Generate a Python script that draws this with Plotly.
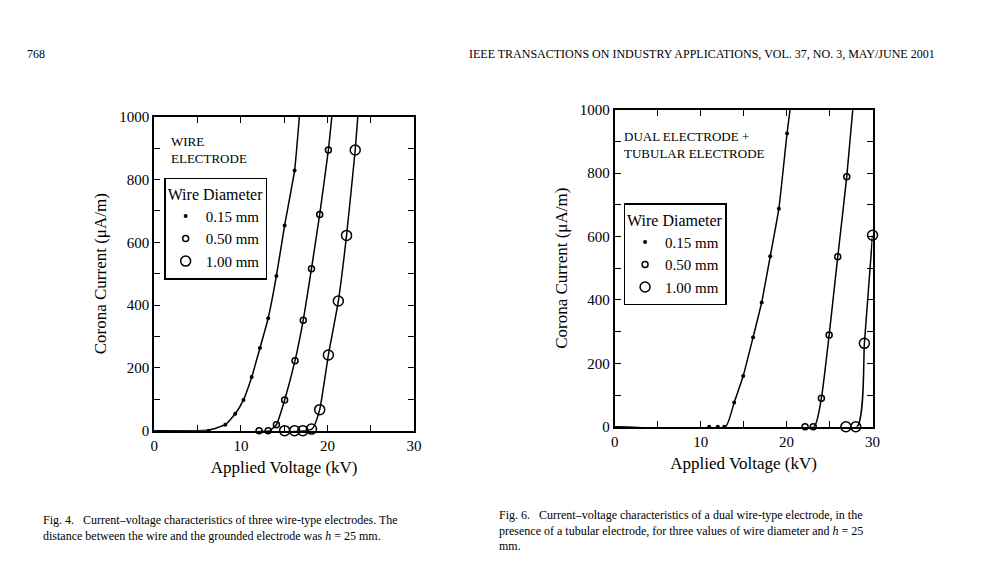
import plotly.graph_objects as go

# Fig. 4 - wire electrode (kV, uA/m)
v4_015 = [6.3, 8.2, 9.35, 10.3, 11.25, 12.2, 13.15, 14.1, 15.05, 16.2]
i4_015 = [0, 19, 54, 98, 171, 263, 358, 493, 654, 829]
v4_050 = [12.1, 13.15, 14.1, 15.05, 16.25, 17.2, 18.15, 19.1, 20.1]
i4_050 = [0, 0, 19, 98, 223, 352, 516, 689, 894]
v4_100 = [15.05, 16.2, 17.15, 18.15, 19.1, 20.1, 21.25, 22.2, 23.2]
i4_100 = [0, 0, 0, 5, 67, 241, 413, 622, 894]
# fitted curves (as drawn)
c4_015_v = [0, 5.0, 6.3, 8.2, 9.35, 10.3, 11.25, 12.2, 13.15, 14.1, 15.05, 16.2, 16.75]
c4_015_i = [0, 0, 2, 19, 54, 98, 171, 263, 358, 493, 654, 829, 1000]
c4_050_v = [0, 13.3, 14.1, 15.05, 16.25, 17.2, 18.15, 19.1, 20.1, 20.5]
c4_050_i = [0, 0, 19, 98, 223, 352, 516, 689, 894, 1000]
c4_100_v = [0, 18.2, 19.1, 20.1, 21.25, 22.2, 23.2, 23.5]
c4_100_i = [0, 5, 67, 241, 413, 622, 894, 1000]

# Fig. 6 - dual electrode + tubular electrode
v6_015 = [11.0, 12.0, 12.75, 13.9, 14.95, 16.1, 17.1, 18.1, 19.1, 20.05]
i6_015 = [0, 0, 0, 76, 160, 282, 392, 538, 688, 925]
v6_050 = [22.15, 23.1, 24.05, 24.95, 25.95, 27.0]
i6_050 = [0, 0, 90, 289, 536, 789]
v6_100 = [26.9, 28.05, 29.05, 30.0]
i6_100 = [0, 0, 263, 604]
c6_015_v = [0, 12.9, 13.9, 14.95, 16.1, 17.1, 18.1, 19.1, 20.05, 20.4]
c6_015_i = [0, 0, 76, 160, 282, 392, 538, 688, 925, 1000]
c6_050_v = [0, 23.2, 24.05, 24.95, 25.95, 27.0, 27.7]
c6_050_i = [0, 0, 90, 289, 536, 789, 1000]
c6_100_v = [0, 28.2, 29.05, 30.0]
c6_100_i = [0, 0, 263, 604]

labels = ["0.15 mm", "0.50 mm", "1.00 mm"]
marks = [
    dict(symbol="circle", size=4, color="black"),
    dict(symbol="circle-open", size=6, color="black", line=dict(width=1.5)),
    dict(symbol="circle-open", size=10, color="black", line=dict(width=1.5)),
]
FONT = "Liberation Serif"


# pixel -> paper position (corrects for page offset seen in the render)
def px(t):
    return (t - 9) / 1000


def py(t):
    return 1 - ((t - 14.9) / 0.975) / 565


fig = go.Figure()

curves = [
    ("x", "y", "legend", [(c4_015_v, c4_015_i), (c4_050_v, c4_050_i), (c4_100_v, c4_100_i)],
     [(v4_015, i4_015), (v4_050, i4_050), (v4_100, i4_100)]),
    ("x2", "y2", "legend2", [(c6_015_v, c6_015_i), (c6_050_v, c6_050_i), (c6_100_v, c6_100_i)],
     [(v6_015, i6_015), (v6_050, i6_050), (v6_100, i6_100)]),
]
for xa, ya, leg, lines, pts in curves:
    for cv, ci in lines:
        fig.add_trace(go.Scatter(x=cv, y=ci, mode="lines", xaxis=xa, yaxis=ya,
                                 line=dict(color="black", width=1.5, shape="spline", smoothing=0.4),
                                 showlegend=False, hoverinfo="skip"))
    for k, (pv, pi) in enumerate(pts):
        fig.add_trace(go.Scatter(x=pv, y=pi, mode="markers", xaxis=xa, yaxis=ya,
                                 marker=marks[k], name=labels[k], legend=leg, cliponaxis=False))

ax = dict(showline=True, linecolor="black", linewidth=2, mirror="ticks", ticks="inside",
          ticklen=6, tickcolor="black", showgrid=False, zeroline=False,
          tickfont=dict(family=FONT, size=15, color="black"))
xt = dict(range=[0, 30], dtick=10, minor=dict(dtick=5, ticks="inside", ticklen=6, tickcolor="black"),
          title=dict(text="Applied Voltage (kV)", font=dict(family=FONT, size=17, color="black"),
                     standoff=8))
yt = dict(range=[0, 1000], dtick=200, minor=dict(dtick=100, ticks="inside", ticklen=6, tickcolor="black"),
          title=dict(text="Corona Current (\u03bcA/m)", font=dict(family=FONT, size=17, color="black"),
                     standoff=8))

legstyle = dict(bordercolor="black", borderwidth=1.5, bgcolor="white",
                font=dict(family=FONT, size=15, color="black"),
                title=dict(text="Wire Diameter", font=dict(family=FONT, size=16, color="black")),
                tracegroupgap=0, itemsizing="trace", xanchor="left", yanchor="top")

fig.update_layout(
    width=1000, height=565, margin=dict(l=0, r=0, t=0, b=0),
    paper_bgcolor="white", plot_bgcolor="white",
    xaxis={**ax, **xt, "domain": [px(153), px(416)], "anchor": "y"},
    yaxis={**ax, **yt, "domain": [py(431), py(116)], "anchor": "x"},
    xaxis2={**ax, **xt, "domain": [px(619), px(880)], "anchor": "y2"},
    yaxis2={**ax, **yt, "domain": [py(427), py(109)], "anchor": "x2"},
    legend={**legstyle, "x": px(163), "y": py(177)},
    legend2={**legstyle, "x": px(628), "y": py(203)},
)

ann = [
    (22, 44, "768", 12, "left"),
    (945, 44, "IEEE TRANSACTIONS ON INDUSTRY APPLICATIONS, VOL. 37, NO. 3, MAY/JUNE 2001", 12, "right"),
    (168, 131, "WIRE<br>ELECTRODE", 13, "left"),
    (626, 126, "DUAL ELECTRODE +<br>TUBULAR ELECTRODE", 13, "left"),
    (38, 512, "Fig. 4.   Current\u2013voltage characteristics of three wire-type electrodes. The<br>"
              "distance between the wire and the grounded electrode was <i>h</i> = 25 mm.", 12, "left"),
    (500, 507, "Fig. 6.   Current\u2013voltage characteristics of a dual wire-type electrode, in the<br>"
               "presence of a tubular electrode, for three values of wire diameter and <i>h</i> = 25<br>mm.", 12, "left"),
]
for x, y, t, s, al in ann:
    fig.add_annotation(x=px(x), y=py(y), xref="paper", yref="paper", text=t, showarrow=False,
                       xanchor=al, yanchor="top", align="left",
                       font=dict(family=FONT, size=s, color="black"))

fig.write_html("out.html")
